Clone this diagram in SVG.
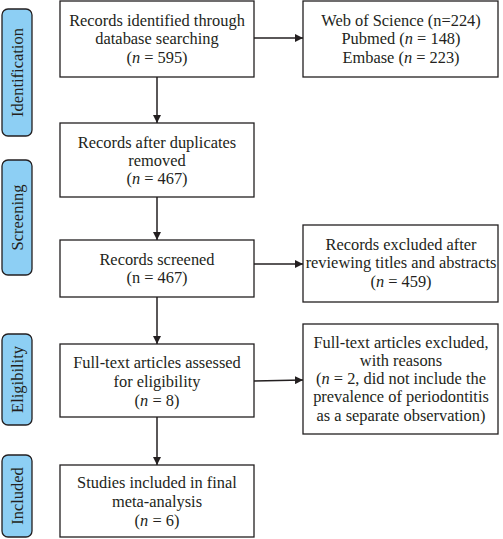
<svg xmlns="http://www.w3.org/2000/svg" width="503" height="539" viewBox="0 0 503 539">
<defs>
<marker id="ah" viewBox="0 0 10 10" refX="10" refY="5" markerWidth="8" markerHeight="8" markerUnits="userSpaceOnUse" orient="auto">
<path d="M0,0 L10,5 L0,10 z" fill="#231f20"/>
</marker>
<style>
.box{fill:#fff;stroke:#231f20;stroke-width:1.3}
.side{fill:#8dcff4;stroke:#231f20;stroke-width:1.3}
.t{font-family:"Liberation Serif","Times New Roman",serif;font-size:16.4px;fill:#231f20;text-anchor:middle}
.s{font-family:"Liberation Serif","Times New Roman",serif;font-size:16.5px;fill:#231f20;text-anchor:middle}
.i{font-style:italic}
.c{stroke:#231f20;stroke-width:1.5;fill:none;marker-end:url(#ah)}
</style>
</defs>
<g id="side-identification"><rect class="side" x="2" y="9" width="30" height="127" rx="6"/><text class="s" transform="translate(22.5,72.5) rotate(-90)">Identification</text></g>
<g id="side-screening"><rect class="side" x="2" y="160" width="30" height="115" rx="6"/><text class="s" transform="translate(22.5,217.5) rotate(-90)">Screening</text></g>
<g id="side-eligibility"><rect class="side" x="2" y="334" width="30" height="91" rx="6"/><text class="s" transform="translate(22.5,379.5) rotate(-90)">Eligibility</text></g>
<g id="side-included"><rect class="side" x="2" y="455" width="30" height="82" rx="6"/><text class="s" transform="translate(22.5,496) rotate(-90)">Included</text></g>

<g id="n1"><rect class="box" x="60" y="1" width="194" height="76"/>
<text class="t" x="157" y="26">Records identified through</text>
<text class="t" x="157" y="44">database searching</text>
<text class="t" x="157" y="63">(<tspan class="i">n</tspan> = 595)</text></g>
<g id="n2"><rect class="box" x="60" y="123" width="194" height="74"/>
<text class="t" x="157" y="148">Records after duplicates</text>
<text class="t" x="157" y="166">removed</text>
<text class="t" x="157" y="184">(<tspan class="i">n</tspan> = 467)</text></g>
<g id="n3"><rect class="box" x="60" y="240" width="194" height="57"/>
<text class="t" x="157" y="265">Records screened</text>
<text class="t" x="157" y="283">(n = 467)</text></g>
<g id="n4"><rect class="box" x="60" y="344" width="194" height="73"/>
<text class="t" x="157" y="368">Full-text articles assessed</text>
<text class="t" x="157" y="387">for eligibility</text>
<text class="t" x="157" y="406">(<tspan class="i">n</tspan> = 8)</text></g>
<g id="n5"><rect class="box" x="60" y="465" width="194" height="72"/>
<text class="t" x="157" y="488">Studies included in final</text>
<text class="t" x="157" y="507">meta-analysis</text>
<text class="t" x="157" y="526">(<tspan class="i">n</tspan> = 6)</text></g>

<g id="r1"><rect class="box" x="303" y="1" width="195" height="76"/>
<text class="t" x="401" y="26">Web of Science (n=224)</text>
<text class="t" x="401" y="44">Pubmed (<tspan class="i">n</tspan> = 148)</text>
<text class="t" x="401" y="63">Embase (<tspan class="i">n</tspan> = 223)</text></g>
<g id="r2"><rect class="box" x="303" y="225" width="195" height="77"/>
<text class="t" x="401" y="250">Records excluded after</text>
<text class="t" x="401" y="268">reviewing titles and abstracts</text>
<text class="t" x="401" y="287">(<tspan class="i">n</tspan> = 459)</text></g>
<g id="r3"><rect class="box" x="303" y="324" width="195" height="110"/>
<text class="t" x="401" y="348">Full-text articles excluded,</text>
<text class="t" x="401" y="366">with reasons</text>
<text class="t" x="401" y="384">(<tspan class="i">n</tspan> = 2, did not include the</text>
<text class="t" x="401" y="402">prevalence of periodontitis</text>
<text class="t" x="401" y="421">as a separate observation)</text></g>

<g id="connectors">
<line class="c" x1="157" y1="77" x2="157" y2="123"/>
<line class="c" x1="157" y1="197" x2="157" y2="240"/>
<line class="c" x1="157" y1="297" x2="157" y2="344"/>
<line class="c" x1="157" y1="417" x2="157" y2="465"/>
<line class="c" x1="254" y1="38" x2="303" y2="38"/>
<line class="c" x1="254" y1="264" x2="303" y2="264"/>
<line class="c" x1="254" y1="381" x2="303" y2="380"/>
</g>
</svg>
